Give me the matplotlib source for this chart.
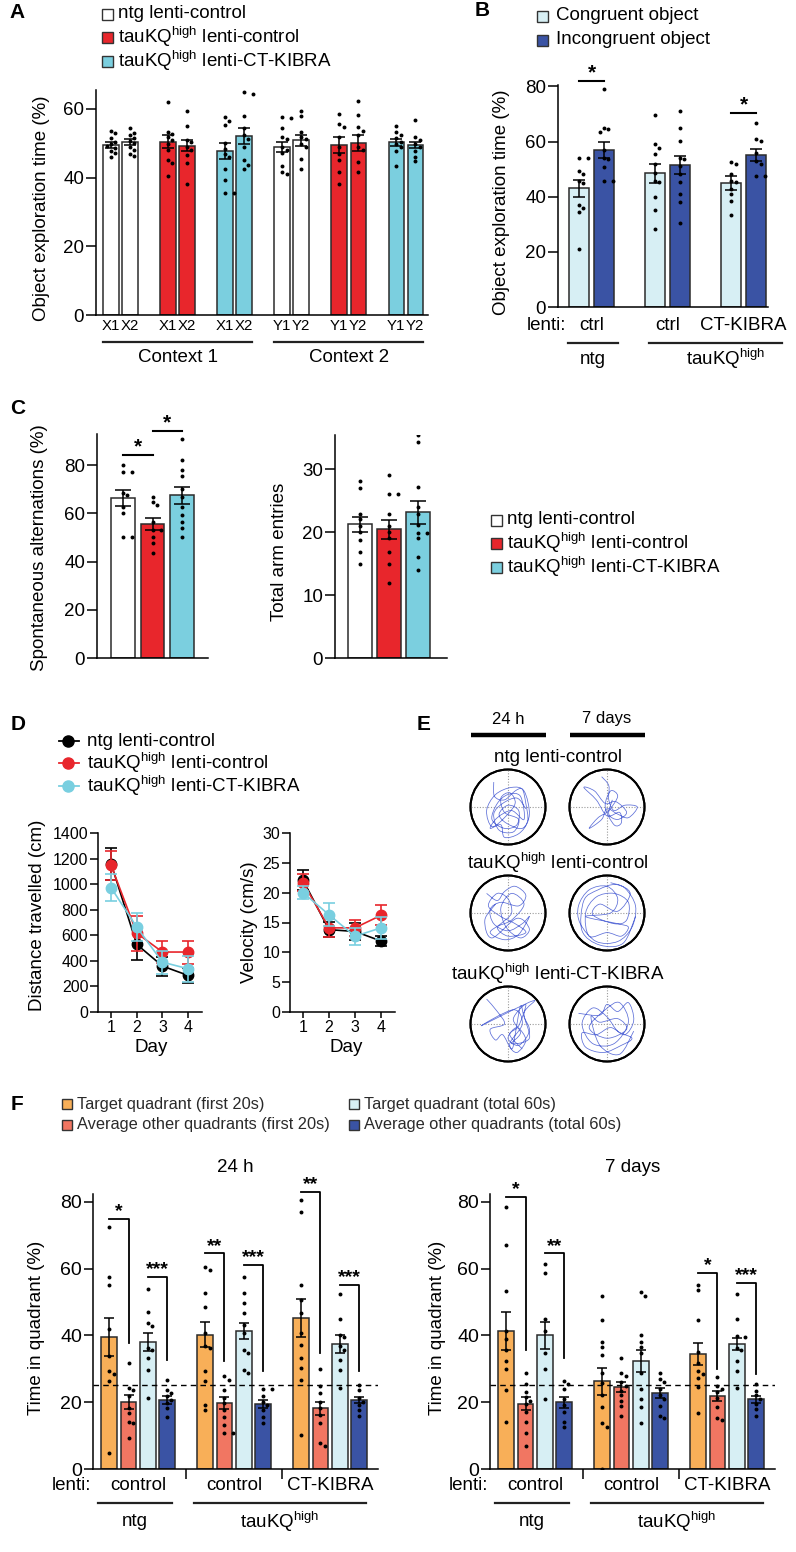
import numpy as np
import matplotlib
matplotlib.use('Agg')
import matplotlib.pyplot as plt
import matplotlib.transforms as mtransforms
from matplotlib.patches import Rectangle, Circle, PathPatch
from matplotlib.path import Path

plt.rcParams['font.family'] = ['Liberation Sans', 'DejaVu Sans']
plt.rcParams['mathtext.fontset'] = 'custom'
plt.rcParams['mathtext.rm'] = 'Liberation Sans'
plt.rcParams['mathtext.it'] = 'Liberation Sans:italic'
plt.rcParams['mathtext.bf'] = 'Liberation Sans:bold'

TAU = r'tauKQ$^{\mathregular{high}}$'

# ---------------- DATA ----------------
group_names = ['ntg lenti-control', TAU + ' lenti-control', TAU + ' lenti-CT-KIBRA']

# Panel A
A_ticklabels = ['X1', 'X2', 'X1', 'X2', 'X1', 'X2', 'Y1', 'Y2', 'Y1', 'Y2', 'Y1', 'Y2']
A_contexts = ['Context 1', 'Context 2']
A_means = [49.5, 50.3, 50.5, 49.2, 47.8, 52.0, 49.0, 50.8, 49.5, 50.0, 50.3, 49.5]
A_sem = [0.8, 0.8, 1.8, 1.6, 2.3, 2.3, 1.5, 1.7, 2.3, 2.3, 1.0, 1.0]
A_points = [
    [53.7, 52.9, 51.5, 50.5, 49.8, 49.3, 48.5, 47.8, 47.1, 46.1],
    [54.4, 53.1, 52.4, 51.5, 50.7, 50.0, 49.0, 47.9, 46.9, 46.3],
    [62.1, 53.4, 52.6, 51.9, 51.0, 49.7, 47.9, 45.1, 44.2, 40.6],
    [59.5, 55.0, 51.0, 50.5, 49.0, 48.1, 46.6, 44.2, 38.1],
    [57.6, 56.6, 55.2, 50.0, 48.3, 46.9, 45.9, 42.4, 39.3, 35.6, 35.4],
    [64.8, 64.4, 57.8, 54.4, 52.4, 51.2, 49.0, 45.0, 43.7, 42.4],
    [57.6, 57.3, 54.4, 51.9, 51.2, 49.0, 48.1, 47.1, 43.4, 41.7, 41.0],
    [59.4, 57.8, 53.4, 51.9, 51.2, 49.7, 49.0, 45.3, 42.5],
    [58.4, 55.6, 54.7, 51.9, 49.0, 46.9, 45.1, 41.7, 38.1],
    [62.3, 58.3, 54.6, 53.7, 52.4, 49.0, 48.1, 44.4, 41.5],
    [55.1, 53.4, 52.4, 51.5, 50.5, 49.7, 49.0, 47.6, 43.4],
    [56.8, 51.9, 51.0, 49.8, 49.0, 47.6, 46.1, 44.7],
]

# Panel B
B_series = ['Congruent object', 'Incongruent object']
B_lenti = ['ctrl', 'ctrl', 'CT-KIBRA']
B_means = [43.0, 57.0, 48.5, 51.5, 45.0, 55.2]
B_sem = [3.0, 3.0, 3.4, 3.2, 2.4, 2.2]
B_points = [
    [54, 54, 49.4, 48.4, 45.8, 44.8, 37, 36, 34.3, 21.2],
    [79, 65, 64.4, 63.5, 57, 54.2, 53.5, 50.6, 45.8, 45.8],
    [69.5, 59, 57.8, 55.4, 51.8, 48.5, 45.8, 45.2, 39.8, 35, 28.4],
    [71.2, 65, 60.2, 54.2, 53.6, 51.2, 48.2, 45.2, 41, 38, 30.5],
    [52.4, 51.8, 48.2, 45.8, 45.2, 42.8, 41, 38.6, 33.2],
    [66.8, 60.8, 60.2, 56, 53, 51.8, 47.6, 47.6],
]
B_sig = [(0, 1, 81.8, '*'), (4, 5, 70.4, '*')]

# Panel C
C1_means = [66.5, 55.6, 67.6]
C1_sem = [3.4, 2.5, 3.5]
C1_points = [
    [80, 77.2, 77.2, 68.6, 67.6, 62.8, 60, 50.3, 50.3],
    [66.9, 64.8, 63.7, 56.6, 53.1, 53.1, 50.3, 47.6, 43.7],
    [91, 82, 78, 75.4, 70.3, 66.9, 62.8, 59.3, 56.6, 53.8, 50.3],
]
C1_sig = [(0, 1, 84.4, '*'), (1, 2, 94.2, '*')]
C2_means = [21.2, 20.4, 23.1]
C2_sem = [1.2, 1.5, 1.9]
C2_points = [
    [28.1, 27, 22.9, 22.1, 21, 20, 18.7, 16.9, 14.9],
    [29, 26.1, 26.1, 22.9, 21, 20, 19, 16.9, 14.9, 11.9],
    [35.4, 34.3, 27.1, 24, 22.9, 21.1, 19.9, 19.9, 19, 16, 14],
]

# Panel D
D_days = [1, 2, 3, 4]
D_dist = [[1160, 529, 359, 286], [1147, 617, 469, 469], [972, 664, 390, 338]]
D_dist_sem = [[125, 125, 75, 58], [112, 137, 88, 90], [104, 110, 90, 100]]
D_vel = [[22.1, 13.8, 13.5, 11.9], [21.7, 14.1, 14.1, 16.2], [20.0, 16.3, 12.7, 14.1]]
D_vel_sem = [[1.7, 1.3, 1.4, 0.9], [1.4, 1.5, 1.3, 1.7], [1.1, 1.9, 1.4, 1.9]]

# Panel E (swim-path waypoints, unit circle coordinates)
E_times = ['24 h', '7 days']
E_paths = [
    [(-0.4, 0.7), (-0.38, 0.3), (-0.1, 0.2), (0.2, 0.45), (0.4, 0.5), (0.5, 0.1), (0.55, -0.4),
     (0.3, -0.75), (-0.1, -0.85), (-0.2, -0.5), (-0.5, -0.6), (-0.3, -0.3), (0.1, -0.1),
     (0.45, -0.35), (0.35, 0.3), (0.0, 0.35), (-0.3, 0.1), (-0.45, -0.35), (-0.1, -0.6),
     (0.25, -0.5), (0.3, -0.1), (0.0, 0.05), (-0.25, -0.2), (-0.05, -0.45), (0.4, -0.6),
     (0.6, -0.2), (0.45, 0.45), (0.1, 0.55), (-0.35, 0.35), (-0.6, -0.1), (-0.45, -0.55),
     (-0.1, -0.3), (0.2, 0.1), (0.05, 0.4), (-0.2, 0.25), (-0.1, -0.15), (0.3, -0.35),
     (0.15, -0.7), (-0.25, -0.65), (-0.4, -0.2), (-0.15, 0.1), (0.25, 0.25), (0.5, -0.05)],
    [(-0.15, 0.85), (0.05, 0.6), (0.05, 0.2), (0.2, -0.1), (0.5, 0.05), (0.85, 0.0), (0.6, -0.3),
     (0.3, -0.2), (0.0, -0.05), (-0.15, -0.35), (-0.5, -0.6), (-0.25, -0.3), (0.05, -0.1),
     (0.3, 0.3), (0.1, 0.45), (-0.05, 0.0), (0.2, -0.5), (0.4, -0.45), (0.35, -0.15),
     (0.0, -0.25), (-0.3, 0.2), (-0.65, 0.55), (-0.35, 0.45), (-0.05, 0.1), (0.25, 0.15),
     (0.55, -0.15), (0.3, -0.35), (0.05, -0.2), (0.15, 0.2)],
    [(-0.6, 0.55), (-0.3, 0.35), (-0.1, 0.6), (0.2, 0.75), (0.5, 0.5), (0.3, 0.2), (-0.2, 0.3),
     (-0.5, 0.1), (-0.4, -0.3), (0.0, -0.5), (0.4, -0.3), (0.6, -0.1), (0.3, -0.6), (-0.1, -0.75),
     (-0.5, -0.55), (-0.2, -0.3), (0.1, 0.0), (0.0, 0.4), (-0.3, 0.55), (-0.55, 0.2), (-0.2, -0.1),
     (0.2, -0.3), (0.5, -0.55), (0.0, -0.65), (-0.3, -0.4), (0.1, -0.2), (0.45, 0.25), (0.1, 0.55),
     (-0.2, 0.15), (-0.05, -0.4), (0.35, -0.7), (0.6, -0.45), (0.25, -0.15), (-0.45, -0.7),
     (-0.65, -0.2), (-0.35, 0.25)],
    [(0.1, 0.85), (0.5, 0.7), (0.8, 0.2), (0.7, -0.4), (0.3, -0.8), (-0.3, -0.8), (-0.75, -0.3),
     (-0.8, 0.2), (-0.5, 0.65), (0.0, 0.75), (0.3, 0.4), (0.1, 0.0), (-0.6, -0.1), (0.3, -0.3),
     (0.6, -0.4), (0.4, -0.65), (0.0, -0.55), (-0.5, -0.65), (-0.6, 0.0), (-0.3, 0.45), (0.2, 0.55),
     (0.6, 0.3), (0.55, -0.2), (0.2, -0.3), (-0.4, -0.05), (-0.2, 0.25), (0.3, 0.05),
     (0.65, 0.55), (0.25, 0.8), (-0.25, 0.65), (-0.65, 0.35), (-0.7, -0.5), (-0.2, -0.9),
     (0.45, -0.85), (0.8, -0.1)],
    [(-0.6, 0.7), (-0.3, 0.35), (-0.1, 0.0), (-0.5, -0.15), (-0.35, -0.45), (-0.15, -0.3),
     (0.1, -0.7), (0.2, -0.3), (0.35, 0.5), (0.45, 0.2), (0.6, -0.2), (0.3, -0.6), (0.0, -0.4),
     (0.25, -0.1), (0.5, -0.45), (0.25, -0.8), (0.05, -0.55), (0.4, 0.0), (0.15, 0.4),
     (-0.75, -0.05), (0.7, 0.65), (0.45, 0.3), (0.6, -0.4), (0.1, -0.55), (0.35, -0.25),
     (0.15, 0.15), (0.5, 0.55), (0.3, -0.05), (0.05, -0.3), (0.4, -0.7)],
    [(-0.8, 0.3), (-0.2, 0.25), (0.0, 0.55), (0.3, 0.35), (0.6, 0.6), (0.75, 0.1), (0.5, -0.3),
     (0.1, -0.1), (-0.3, -0.3), (-0.7, -0.25), (-0.6, -0.65), (-0.1, -0.8), (0.4, -0.6),
     (0.7, -0.4), (0.3, -0.2), (0.0, 0.2), (-0.4, 0.45), (-0.7, 0.0), (-0.4, -0.55), (0.2, -0.55),
     (0.6, 0.05), (0.35, 0.6), (-0.05, 0.4), (-0.5, -0.1), (0.0, -0.4), (0.55, -0.15),
     (0.3, 0.15), (-0.2, 0.05), (-0.45, 0.2), (-0.2, -0.6), (0.35, -0.85), (0.75, -0.2)],
]

# Panel F
F_series = ['Target quadrant (first 20s)', 'Average other quadrants (first 20s)',
            'Target quadrant (total 60s)', 'Average other quadrants (total 60s)']
F_lenti = ['control', 'control', 'CT-KIBRA']
F24_means = [39.5, 20.0, 38.0, 20.7, 40.2, 19.8, 41.3, 19.5, 45.3, 18.2, 37.5, 20.7]
F24_sem = [5.8, 2.0, 2.7, 1.2, 3.8, 1.7, 2.5, 1.2, 5.7, 2.0, 2.7, 0.8]
F24_points = [
    [72.3, 57.6, 55, 42, 33.7, 29.2, 28.5, 26.2, 4.8],
    [31.7, 24.2, 23.7, 21.7, 18.2, 16.7, 14.2, 13.7, 9.3],
    [53.8, 47.1, 43.6, 42.8, 36.2, 35.7, 33.2, 29.7, 21.2],
    [26.5, 23.7, 22.7, 21.7, 20.7, 19.7, 18.2, 15.7],
    [60.6, 59.6, 52.6, 48.6, 40.6, 36.7, 36.2, 29.2, 26.2, 19.2, 17.7],
    [27.7, 26.7, 23.7, 21.2, 19.7, 17.7, 15.7, 13.2, 10.8, 10.8],
    [57.6, 52.6, 49.6, 46.6, 43.1, 40.6, 35.7, 34.7, 29.7, 28.7],
    [23.9, 23.9, 21.7, 20.2, 19.2, 17.7, 15.7, 13.7],
    [80.5, 77, 55, 50.6, 46.6, 40.6, 37.2, 33.2, 30.2, 26.7, 10.3],
    [29.9, 24.7, 22.7, 20.2, 18.2, 16.2, 13.7, 7.8, 6.8],
    [52.3, 44.8, 40.1, 39.6, 36.7, 35.7, 32.7, 29.7, 24.2],
    [25.2, 23.7, 21.2, 20.2, 19.2, 17.7, 15.9],
]
F24_sig = [(0, 1, 74.8, 37.6, '*'), (2, 3, 57.6, 32.7, '***'), (4, 5, 64.5, 32.2, '**'),
           (6, 7, 61.0, 29.2, '***'), (8, 9, 83.0, 34.7, '**'), (10, 11, 55.0, 29.2, '***')]
F7_means = [41.3, 19.5, 40.0, 20.0, 26.2, 24.5, 32.3, 22.6, 34.5, 21.8, 37.5, 20.8]
F7_sem = [5.7, 1.9, 4.0, 1.6, 4.1, 1.5, 3.3, 1.5, 3.3, 1.5, 1.8, 1.0]
F7_points = [
    [78.5, 66.9, 53.3, 41.4, 39, 35.6, 32.2, 29.9, 23.6, 14.2],
    [28.6, 25.4, 22.9, 21.5, 20.5, 19.5, 17, 14.2, 10.8, 6.9],
    [61.3, 58.6, 44.8, 41.4, 34.6, 29.9, 21],
    [26.3, 25.4, 23.9, 21, 19.2, 17.1, 14.2, 12.7],
    [51.8, 44.5, 38, 36.5, 34.1, 28.8, 25.6, 22, 18.6, 13.7, 12.7, 0.1],
    [33.1, 28.8, 27.8, 25.9, 24.9, 23.4, 22, 20.5, 19, 15.8],
    [53.1, 51.8, 40.1, 38, 36.5, 34.6, 28.8, 23.9, 21, 18.6, 13.9],
    [28.6, 27, 25.9, 23.9, 22.2, 21, 19, 15.9, 15.4],
    [55.2, 53.7, 44.5, 35.1, 31.7, 29.3, 28.3, 27.3, 24.6, 16.8],
    [27.6, 24.9, 23.9, 22.9, 21.2, 18.6, 15.2, 14.7],
    [52.3, 44.8, 39.9, 39.5, 36.1, 35.6, 32.2, 29.3, 24.1],
    [25.4, 23.4, 22, 21, 19.5, 18.1, 15.8],
]
F7_sig = [(0, 1, 81.4, 35.6, '*'), (2, 3, 64.5, 33.1, '**'),
          (8, 9, 58.6, 29.9, '*'), (10, 11, 55.7, 28.3, '***')]

# ---------------- STYLE ----------------
WHITE = '#FFFFFF'
RED = '#E8262C'
CYAN = '#7BCFDF'
LCYAN = '#D7EFF4'
DBLUE = '#3A53A4'
ORANGE = '#F8AF58'
SALMON = '#F17662'
EDGE = '#2b2b2b'
TRAJ = '#5D6FD8'
LW = 1.1

W, H = 796, 1552
fig = plt.figure(figsize=(W / 100, H / 100), dpi=100)


def add_ax(l, t, r, b):
    ax = fig.add_axes([l / W, 1 - b / H, (r - l) / W, (b - t) / H])
    ax.set_facecolor('none')
    for s in ['top', 'right']:
        ax.spines[s].set_visible(False)
    for s in ['left', 'bottom']:
        ax.spines[s].set_linewidth(LW)
    ax.tick_params(axis='y', length=7, width=LW, labelsize=13.5, pad=1.5)
    ax.tick_params(axis='x', length=0, labelsize=13)
    return ax


def below(ax, px):
    return mtransforms.offset_copy(ax.get_xaxis_transform(), fig=fig, y=-px, units='dots')


def swarm(vals, sx, sy, d=4.6):
    vals = np.asarray(vals, float)
    out = np.zeros(len(vals))
    placed = []
    cands = [0.0]
    for j in range(1, 8):
        cands += [j * d * 0.95, -j * d * 0.95]
    for i in np.argsort(-vals):
        y = vals[i] * sy
        for c in cands:
            if all((c - px) ** 2 + (y - py) ** 2 >= d * d for px, py in placed):
                break
        placed.append((c, y))
        out[i] = c / sx
    return out


def bars(ax, xs, means, sems, pts, colors, width, sx, sy, capsize=3.8, dot=8):
    ax.bar(xs, means, width, color=colors, edgecolor=EDGE, linewidth=LW, zorder=2)
    ax.errorbar(xs, means, yerr=sems, fmt='none', ecolor='k', elinewidth=LW,
                capsize=capsize, capthick=LW, zorder=4)
    for x, p in zip(xs, pts):
        offs = swarm(p, sx, sy)
        ax.scatter(x + offs, p, s=dot, c='k', linewidths=0, zorder=5)


def star_label(ax, x, y, lab, fs=15):
    ax.annotate(lab, (x, y), xytext=(0, 2.0), textcoords='offset points',
                ha='center', va='baseline', fontsize=fs, fontweight='bold',
                annotation_clip=False)


def star_bar(ax, x1, x2, y, lab, fs=15):
    ax.plot([x1, x2], [y, y], color='k', lw=1.5, clip_on=False, zorder=6)
    star_label(ax, (x1 + x2) / 2, y, lab, fs)


# ---------------- PANEL A ----------------
axA = add_ax(96, 90, 428, 315)
xa = np.array([i + o for i in range(len(A_means) // 2) for o in (-1 / 6, 1 / 6)])
colsA = [[WHITE, RED, CYAN][(j // 2) % 3] for j in range(len(A_means))]
bars(axA, xa, A_means, A_sem, A_points, colsA, 0.27, 57, 225 / 65.5, capsize=4)
axA.set_xlim(-0.43, 5.39)
axA.set_ylim(0, 65.5)
axA.set_yticks([0, 20, 40, 60])
axA.set_xticks(xa)
axA.set_xticklabels(A_ticklabels, fontsize=10.8)
axA.tick_params(axis='x', pad=3)
for k, name in enumerate(A_contexts):
    g0, g1 = 3 * k, 3 * k + 2
    axA.plot([g0 - 0.31, g1 + 0.31], [0, 0], color='#222', lw=1.6,
             transform=below(axA, 27), clip_on=False)
    axA.text((g0 + g1) / 2, 0, name, ha='center', va='center', fontsize=13.5,
             transform=below(axA, 42))

# ---------------- PANEL B ----------------
axB = add_ax(558, 85, 768, 307)
xb = np.array([i + o for i in range(3) for o in (-0.1645, 0.1645)])
colsB = [LCYAN, DBLUE] * 3
bars(axB, xb, B_means, B_sem, B_points, colsB, 0.265, 76, 222 / 80, capsize=4.2)
axB.set_xlim(-0.44, 2.32)
axB.set_ylim(0, 80.5)
axB.set_yticks([0, 20, 40, 60, 80])
axB.set_xticks([])
for i, j, y, lab in B_sig:
    star_bar(axB, xb[i], xb[j], y, lab)
axB.text(-0.585, 0, 'lenti:', ha='center', va='center', fontsize=13.5, transform=below(axB, 18))
for i, lab in enumerate(B_lenti):
    axB.text(i, 0, lab, ha='center', va='center', fontsize=13.5, transform=below(axB, 18))
axB.plot([-0.31, 0.35], [0, 0], color='#222', lw=1.6, transform=below(axB, 36), clip_on=False)
axB.plot([0.76, 2.5], [0, 0], color='#222', lw=1.6, transform=below(axB, 36), clip_on=False)
axB.text(0.02, 0, 'ntg', ha='center', va='center', fontsize=13.5, transform=below(axB, 52))
axB.text(1.77, 0, TAU, ha='center', va='center', fontsize=13.5, transform=below(axB, 52))

# ---------------- PANEL C ----------------
colsC = [WHITE, RED, CYAN]
axC1 = add_ax(97, 434, 208, 658)
bars(axC1, np.arange(3), C1_means, C1_sem, C1_points, colsC, 0.81, 29.5, 224 / 93, capsize=5.5)
axC1.set_xlim(-0.88, 2.88)
axC1.set_ylim(0, 93)
axC1.set_yticks([0, 20, 40, 60, 80])
axC1.set_xticks([])
for i, j, y, lab in C1_sig:
    star_bar(axC1, i, j, y, lab)

axC2 = add_ax(335, 435, 447, 658)
bars(axC2, np.arange(3), C2_means, C2_sem, C2_points, colsC, 0.81, 29, 6.3, capsize=5.5)
axC2.set_xlim(-0.86, 3.0)
axC2.set_ylim(0, 35.4)
axC2.set_yticks([0, 10, 20, 30])
axC2.set_xticks([])

# ---------------- PANEL D ----------------
D_colors = ['k', RED, '#79CFE0']
D_order = [1, 0, 2]
axD1 = add_ax(98, 833, 202, 1012)
axD2 = add_ax(290, 833, 395, 1012)
for ax, vals, sems in [(axD1, D_dist, D_dist_sem), (axD2, D_vel, D_vel_sem)]:
    for k in D_order:
        ax.errorbar(D_days, vals[k], yerr=sems[k], color=D_colors[k], marker='o', ms=7.5,
                    lw=1.2, elinewidth=1.2, capsize=4.5, capthick=1.2, mec=D_colors[k],
                    zorder=3 + k, clip_on=False)
    ax.set_xticks(D_days)
    ax.tick_params(axis='x', length=4, width=LW, labelsize=11.5, pad=2)
    ax.tick_params(axis='y', length=5.5, labelsize=11.5, pad=1.5)
axD1.set_xlim(0.49, 4.54)
axD1.set_ylim(0, 1400)
axD1.set_yticks(np.arange(0, 1401, 200))
axD2.set_xlim(0.5, 4.54)
axD2.set_ylim(0, 30)
axD2.set_yticks(np.arange(0, 31, 5))

# ---------------- PANEL F ----------------
xf = np.array([g + o for g in range(3) for o in (-0.3, -0.1, 0.1, 0.3)])
colsF = [ORANGE, SALMON, LCYAN, DBLUE] * 3
axF1 = add_ax(93, 1194, 378, 1469)
axF2 = add_ax(490, 1194, 775, 1469)
for ax, means, sems, pts, sig, title in [(axF1, F24_means, F24_sem, F24_points, F24_sig, E_times[0]),
                                         (axF2, F7_means, F7_sem, F7_points, F7_sig, E_times[1])]:
    bars(ax, xf, means, sems, pts, colsF, 0.165, 96, 3.34, capsize=3.6)
    ax.set_xlim(-0.47, 2.5)
    ax.set_ylim(0, 82.3)
    ax.set_yticks([0, 20, 40, 60, 80])
    ax.tick_params(axis='y', length=6.5, labelsize=14)
    ax.set_xticks([0.5, 1.5])
    ax.set_xticklabels([])
    ax.tick_params(axis='x', length=7, width=LW, direction='out')
    ax.axhline(25, color='k', lw=1.0, ls=(0, (4, 3)), zorder=3)
    for i, j, ytop, ybot, lab in sig:
        ax.plot([xf[i], xf[j], xf[j]], [ytop, ytop, ybot], color='k', lw=1.3, zorder=6,
                clip_on=False)
        star_label(ax, (xf[i] + xf[j]) / 2, ytop, lab, fs=14)
    ax.set_title(title, fontsize=13.5, pad=16)
    ax.text(-0.69, 0, 'lenti:', ha='center', va='center', fontsize=13.5, transform=below(ax, 17))
    for g, lab in enumerate(F_lenti):
        ax.text(g, 0, lab, ha='center', va='center', fontsize=13.5, transform=below(ax, 17))
    ax.plot([-0.42, 0.35], [0, 0], color='#222', lw=1.6, transform=below(ax, 34), clip_on=False)
    ax.plot([0.58, 2.38], [0, 0], color='#222', lw=1.6, transform=below(ax, 34), clip_on=False)
    ax.text(-0.03, 0, 'ntg', ha='center', va='center', fontsize=13.5, transform=below(ax, 53))
    ax.text(1.48, 0, TAU, ha='center', va='center', fontsize=13.5, transform=below(ax, 53))

# ---------------- OVERLAY (labels, legends, panel E) ----------------
axo = fig.add_axes([0, 0, 1, 1], zorder=10)
axo.set_xlim(0, W)
axo.set_ylim(H, 0)
axo.axis('off')
axo.patch.set_visible(False)


def T(x, y, s, **kw):
    kw.setdefault('fontsize', 13.5)
    kw.setdefault('va', 'center')
    axo.text(x, y, s, **kw)


def sq(x, y, fc, size=11):
    axo.add_patch(Rectangle((x - size / 2, y - size / 2), size, size, facecolor=fc,
                            edgecolor='#333', lw=1.0))


# panel letters
for lab, x, y in [('A', 17, 13), ('B', 482, 11), ('C', 18, 409), ('D', 18, 725),
                  ('E', 424, 725), ('F', 17, 1105)]:
    T(x, y, lab, fontsize=15, fontweight='bold', ha='center')

# y labels
for x, y, s in [(42, 208, 'Object exploration time (%)'),
                (502, 202, 'Object exploration time (%)'),
                (40, 548, 'Spontaneous alternations (%)'),
                (280, 552, 'Total arm entries'),
                (38, 915, 'Distance travelled (cm)'),
                (250, 922, 'Velocity (cm/s)'),
                (37, 1328, 'Time in quadrant (%)'),
                (437, 1328, 'Time in quadrant (%)')]:
    T(x, y, s, rotation=90, ha='center')

T(151, 1048, 'Day', ha='center')
T(346, 1048, 'Day', ha='center')

# legend A
for k, (name, c) in enumerate(zip(group_names, [WHITE, RED, CYAN])):
    y = [14, 37, 61][k]
    sq(107, y, c)
    T(118, y, name)
# legend B
for k, (name, c) in enumerate(zip(B_series, [LCYAN, DBLUE])):
    y = [16, 40][k]
    sq(542, y, c)
    T(556, y, name)
# legend C
for k, (name, c) in enumerate(zip(group_names, [WHITE, RED, CYAN])):
    y = [520, 543, 567][k]
    sq(496, y, c)
    T(507, y, name)
# legend D
for k, name in enumerate(group_names):
    y = [741, 763, 786][k]
    axo.plot([59, 79], [y, y], color=D_colors[k], lw=1.3)
    axo.plot([68], [y], marker='o', ms=8, color=D_colors[k])
    T(87, y, name)
# legend F
for k, (name, c) in enumerate(zip(F_series, [ORANGE, SALMON, LCYAN, DBLUE])):
    x = [67, 67, 354, 354][k]
    y = [1104, 1125, 1104, 1125][k]
    sq(x, y, c, size=10)
    T(x + 10, y, name, fontsize=11.8, color='#2a2a2a')

# panel E
E_cx = [508, 607]
E_cy = [807, 913, 1024]
E_R = 37.5
for c, t in enumerate(E_times):
    T(E_cx[c], 719, t, fontsize=12, ha='center')
    axo.plot([E_cx[c] - 37, E_cx[c] + 38], [735, 735], color='k', lw=3.2, solid_capstyle='butt')
for r, name in enumerate(group_names):
    T(558, E_cy[r] - 50, name, ha='center')


def cr_path(pts, cx, cy, R):
    P = np.array([(cx + R * u, cy - R * v) for u, v in pts])
    verts = [P[0]]
    codes = [Path.MOVETO]
    n = len(P)
    for i in range(n - 1):
        p0 = P[i - 1] if i > 0 else P[i]
        p1, p2 = P[i], P[i + 1]
        p3 = P[i + 2] if i + 2 < n else P[i + 1]
        verts += [p1 + (p2 - p0) / 6, p2 - (p3 - p1) / 6, p2]
        codes += [Path.CURVE4] * 3
    return Path(verts, codes)


for r in range(3):
    for c in range(2):
        cx, cy = E_cx[c], E_cy[r]
        circ = Circle((cx, cy), E_R, facecolor='white', edgecolor='k', lw=1.4, zorder=1)
        axo.add_patch(circ)
        axo.plot([cx - E_R, cx + E_R], [cy, cy], color='#9a9a9a', lw=0.8,
                 ls=(0, (1, 1.5)), zorder=2)
        axo.plot([cx, cx], [cy - E_R, cy + E_R], color='#9a9a9a', lw=0.8,
                 ls=(0, (1, 1.5)), zorder=2)
        pp = PathPatch(cr_path(E_paths[2 * r + c], cx, cy, E_R * 0.95), facecolor='none',
                       edgecolor=TRAJ, lw=0.55, zorder=3)
        axo.add_patch(pp)
        pp.set_clip_path(circ)
        border = Circle((cx, cy), E_R, facecolor='none', edgecolor='k', lw=1.4, zorder=4)
        axo.add_patch(border)

fig.savefig('out.png', dpi=100)
